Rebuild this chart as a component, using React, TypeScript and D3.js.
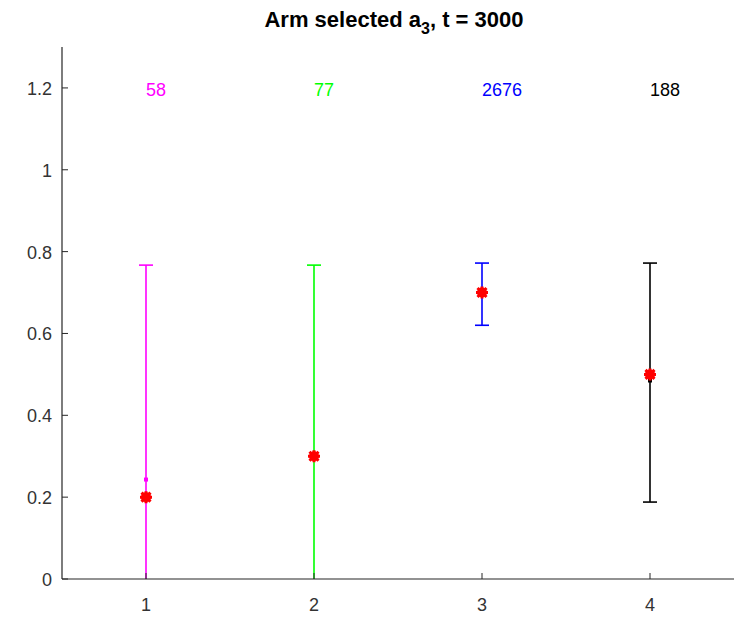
import React from "react";
import * as d3 from "d3";

const arms = [1, 2, 3, 4];
const means = [0.2, 0.3, 0.7, 0.5];
const lowers = [0, 0, 0.62, 0.188];
const uppers = [0.767, 0.767, 0.772, 0.772];
const estimates = [0.243, 0.3, 0.7, 0.485];
const counts = ["58", "77", "2676", "188"];
const colors = ["#ff00ff", "#00ff00", "#0000ff", "#000000"];
const yTicks = [0, 0.2, 0.4, 0.6, 0.8, 1, 1.2];
const xTicks = [1, 2, 3, 4];

const W = 744;
const H = 620;
const left = 62;
const right = 734;
const top = 47;
const bottom = 579;

export default function App() {
  const x = d3.scaleLinear().domain([0.5, 4.5]).range([left, right]);
  const y = d3.scaleLinear().domain([0, 1.3]).range([bottom, top]);
  const axisColor = "#262626";
  const labelColor = "#333333";
  const font = "Liberation Sans, Arial, sans-serif";
  const capW = 7;
  return (
    <svg width={W} height={H} style={{ position: "absolute", left: 0, top: 0 }}>
      <rect x={0} y={0} width={W} height={H} fill="#fff" />
      <text x={394} y={27} textAnchor="middle" fontFamily={font} fontWeight="bold" fontSize={22} fill="#000">
        Arm selected a<tspan dy={7} fontSize={16}>3</tspan><tspan dy={-7}>, t = 3000</tspan>
      </text>
      {arms.map((a, i) => (
        <g key={a}>
          <line x1={x(a)} x2={x(a)} y1={y(lowers[i])} y2={y(uppers[i])} stroke={colors[i]} strokeWidth={1.6} />
          <line x1={x(a) - capW} x2={x(a) + capW} y1={y(uppers[i])} y2={y(uppers[i])} stroke={colors[i]} strokeWidth={1.6} />
          {lowers[i] > 0 && (
            <line x1={x(a) - capW} x2={x(a) + capW} y1={y(lowers[i])} y2={y(lowers[i])} stroke={colors[i]} strokeWidth={1.6} />
          )}
          <rect x={x(a) - 2} y={y(estimates[i]) - 2} width={4} height={4} fill={colors[i]} />
          <g transform={`translate(${x(a)},${y(means[i])})`}>
            <circle r={5} fill="#ff0000" />
            <path d="M-4.5,-4.5L4.5,4.5M-4.5,4.5L4.5,-4.5M-6,0L6,0M0,-6L0,6" stroke="#ff0000" strokeWidth={3} />
          </g>
          <text x={x(a)} y={y(1.2) + 8} textAnchor="start" fontFamily={font} fontSize={18} fill={colors[i]}>
            {counts[i]}
          </text>
        </g>
      ))}
      <line x1={left} x2={left} y1={top} y2={bottom} stroke={axisColor} strokeWidth={1.2} />
      <line x1={left} x2={right} y1={bottom} y2={bottom} stroke={axisColor} strokeWidth={1.2} />
      {yTicks.map((t) => (
        <g key={t}>
          <line x1={left} x2={left + 6} y1={y(t)} y2={y(t)} stroke={axisColor} />
          <text x={left - 10} y={y(t) + 7} textAnchor="end" fontFamily={font} fontSize={18} fill={labelColor}>
            {d3.format("")(t)}
          </text>
        </g>
      ))}
      {xTicks.map((t) => (
        <g key={t}>
          <line x1={x(t)} x2={x(t)} y1={bottom} y2={bottom - 6} stroke={axisColor} />
          <text x={x(t)} y={bottom + 32} textAnchor="middle" fontFamily={font} fontSize={18} fill={labelColor}>
            {t}
          </text>
        </g>
      ))}
    </svg>
  );
}
